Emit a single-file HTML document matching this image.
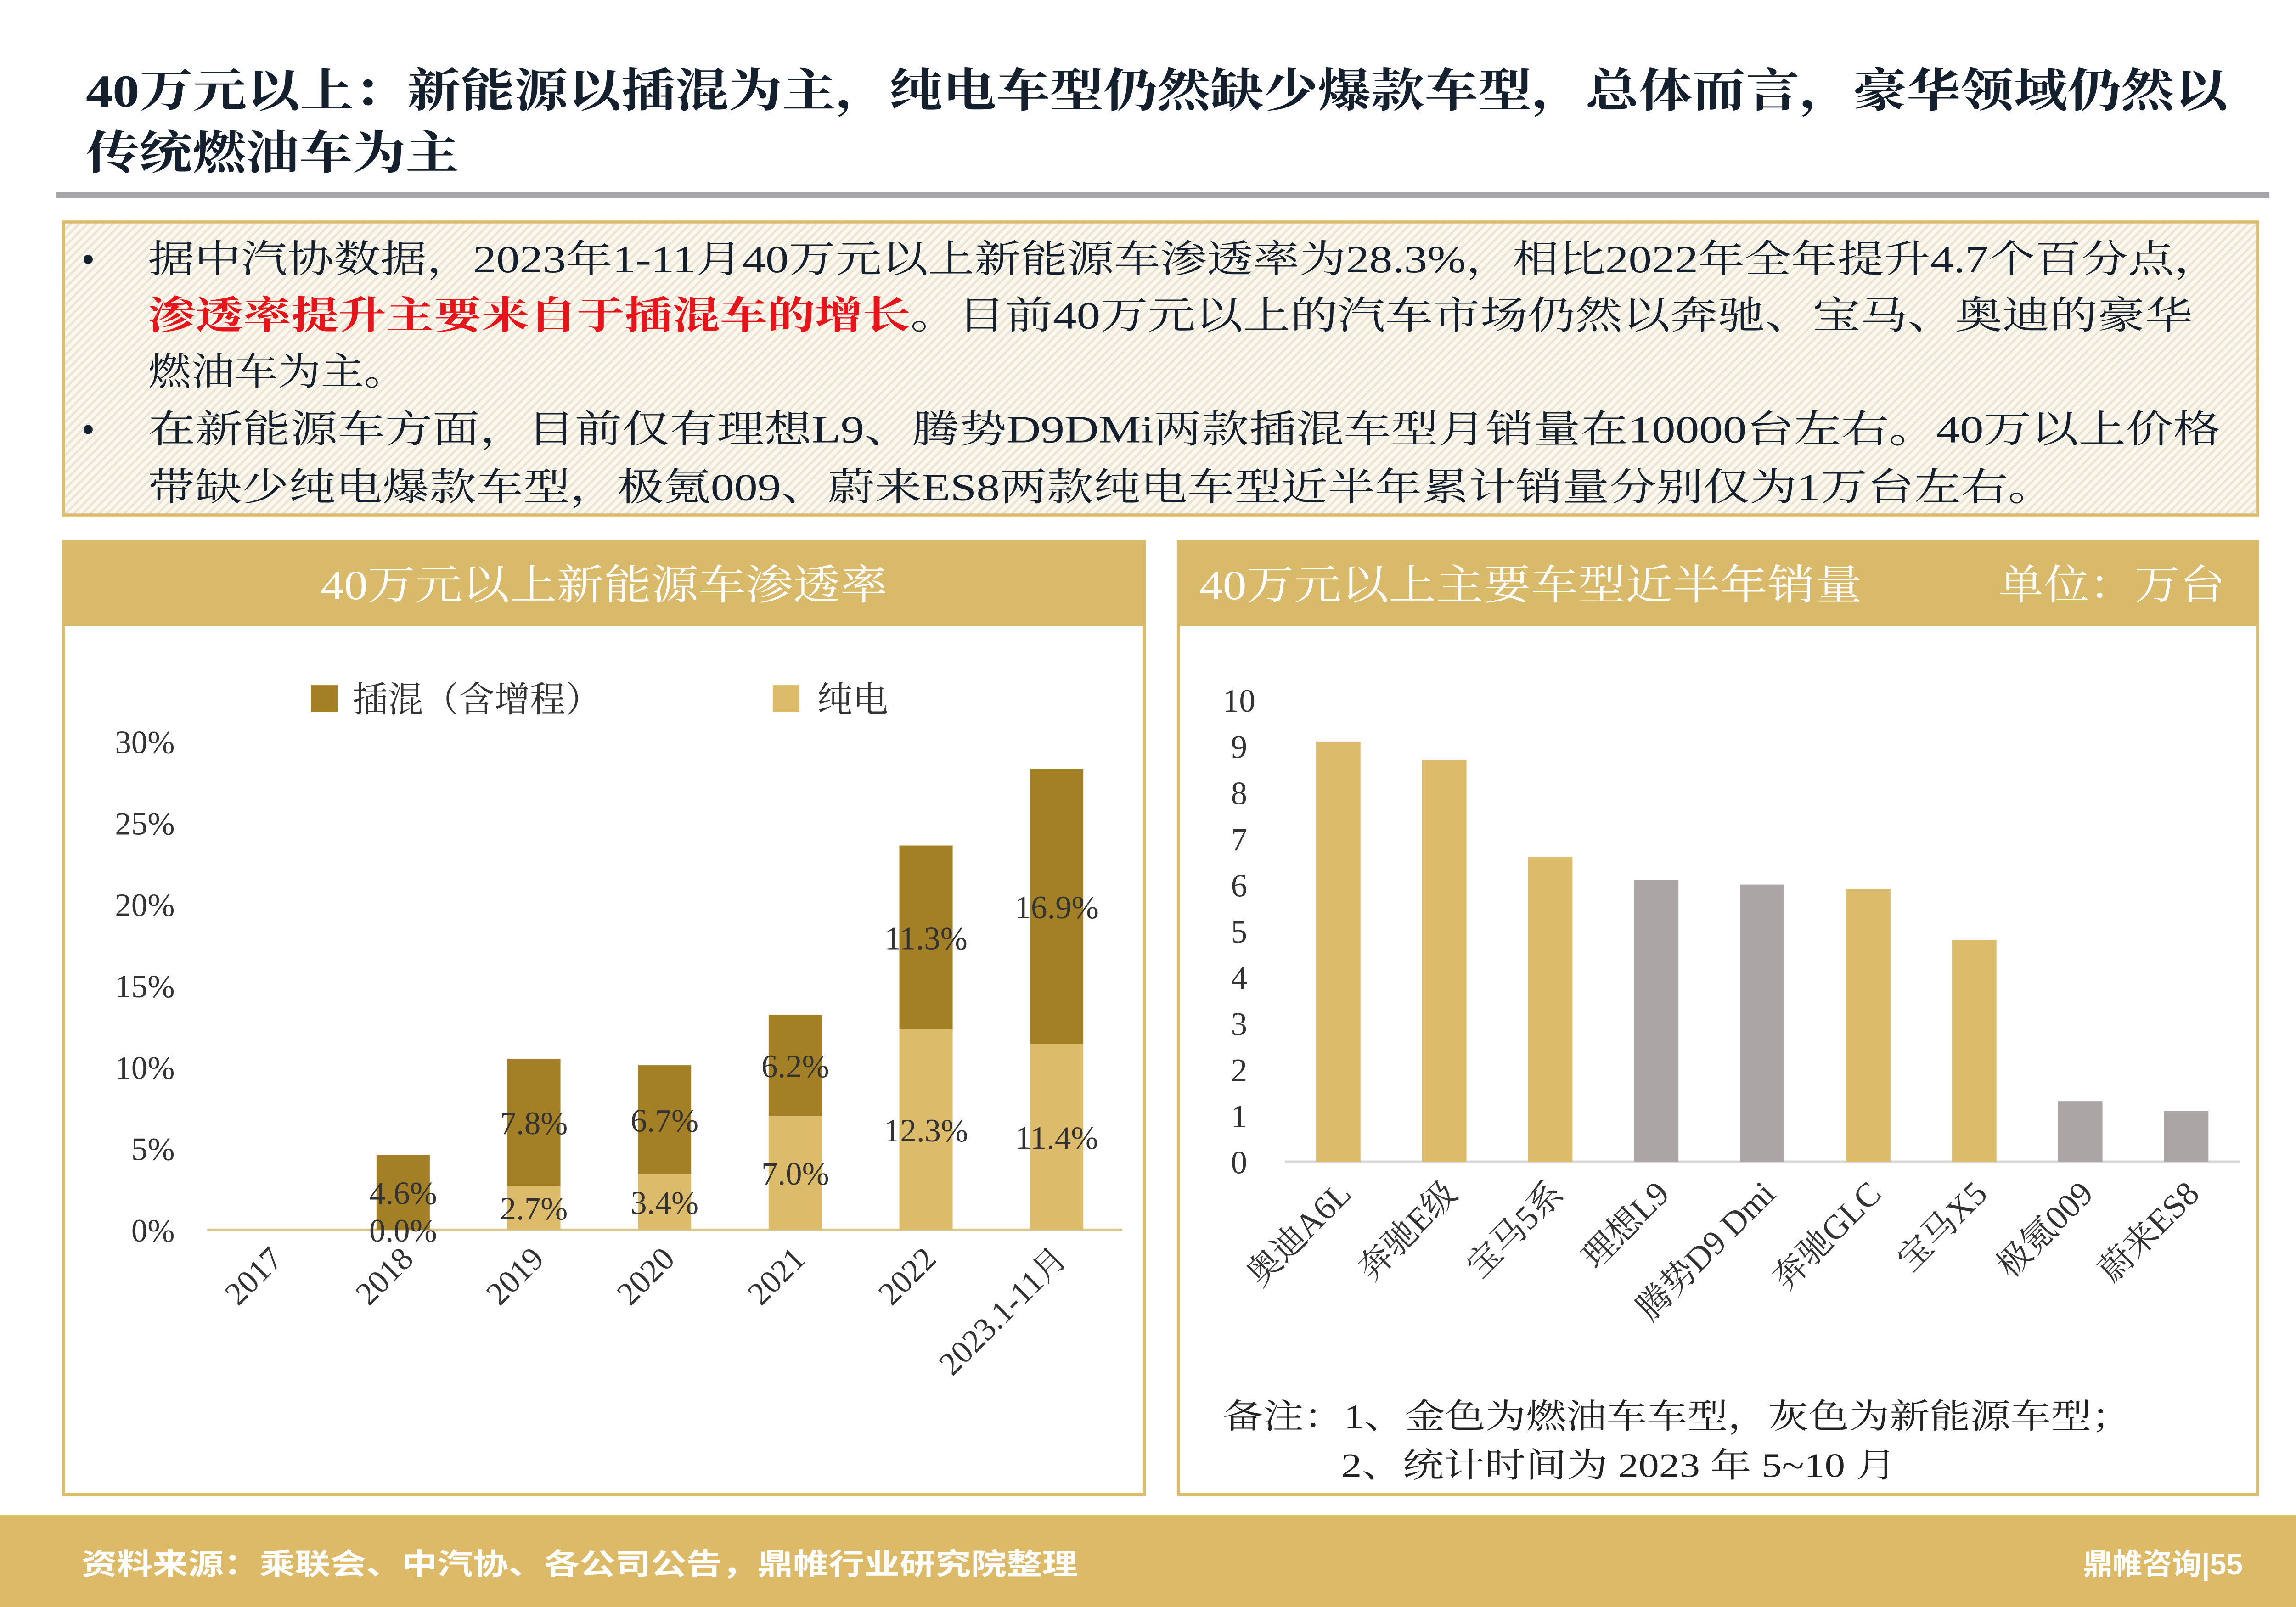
<!DOCTYPE html>
<html><head><meta charset="utf-8">
<style>
html,body{margin:0;padding:0;background:#fff;}
svg{display:block;}
text{font-family:"Liberation Serif","Noto Serif CJK SC",serif;}
</style></head>
<body>
<svg id="page" width="5055" height="3500" viewBox="0 0 1568 1086" preserveAspectRatio="none" xmlns="http://www.w3.org/2000/svg">
<defs>
<pattern id="hatch" patternUnits="userSpaceOnUse" width="4" height="4" patternTransform="rotate(45)">
<rect width="4" height="4" fill="#fbf8ef"/>
<rect width="1.5" height="4" fill="#ece5d3"/>
</pattern>
</defs>
<rect width="1568" height="1086" fill="#fff"/>
<g fill="#14202e" font-weight="bold" font-size="31">
<text x="58" y="72" textLength="1447" lengthAdjust="spacingAndGlyphs">40万元以上：新能源以插混为主，纯电车型仍然缺少爆款车型，总体而言，豪华领域仍然以</text>
<text x="58" y="114" textLength="252" lengthAdjust="spacingAndGlyphs">传统燃油车为主</text>
</g>
<rect x="38" y="130" width="1495" height="4" fill="#a6a6a8"/>
<g>
<rect x="43" y="150" width="1482" height="198" fill="url(#hatch)" stroke="#dcbc6b" stroke-width="2"/>
<g font-size="26" fill="#14202e">
<text x="55" y="184">•</text>
<text x="100" y="184" textLength="1400" lengthAdjust="spacingAndGlyphs">据中汽协数据，2023年1-11月40万元以上新能源车渗透率为28.3%，相比2022年全年提升4.7个百分点，</text>
<text x="100" y="222" fill="#e8141b" font-weight="bold" textLength="515" lengthAdjust="spacingAndGlyphs">渗透率提升主要来自于插混车的增长</text>
<text x="615" y="222" textLength="866" lengthAdjust="spacingAndGlyphs">。目前40万元以上的汽车市场仍然以奔驰、宝马、奥迪的豪华</text>
<text x="100" y="260" textLength="175" lengthAdjust="spacingAndGlyphs">燃油车为主。</text>
<text x="55" y="299">•</text>
<text x="100" y="299" textLength="1400" lengthAdjust="spacingAndGlyphs">在新能源车方面，目前仅有理想L9、腾势D9DMi两款插混车型月销量在10000台左右。40万以上价格</text>
<text x="100" y="338" textLength="1288" lengthAdjust="spacingAndGlyphs">带缺少纯电爆款车型，极氪009、蔚来ES8两款纯电车型近半年累计销量分别仅为1万台左右。</text>
</g>
</g>
<g>
<rect x="43" y="366" width="730" height="644" fill="#fff" stroke="#dcbc6b" stroke-width="2"/>
<rect x="43" y="366" width="730" height="57" fill="#d9b96a"/>
<text x="408" y="405" fill="#fff" font-size="28" text-anchor="middle" textLength="383" lengthAdjust="spacingAndGlyphs">40万元以上新能源车渗透率</text>
</g>
<g>
<rect x="796" y="366" width="729" height="644" fill="#fff" stroke="#dcbc6b" stroke-width="2"/>
<rect x="796" y="366" width="729" height="57" fill="#d9b96a"/>
<text x="810" y="405" fill="#fff" font-size="28" textLength="448" lengthAdjust="spacingAndGlyphs">40万元以上主要车型近半年销量</text>
<text x="1350" y="405" fill="#fff" font-size="28" textLength="153" lengthAdjust="spacingAndGlyphs">单位：万台</text>
</g>
<g id="leftChart"></g>
<g id="rightChart"></g>
<g font-size="23" fill="#222">
<text x="826" y="965" textLength="614" lengthAdjust="spacingAndGlyphs">备注：1、金色为燃油车车型，灰色为新能源车型；</text>
<text x="906" y="998" textLength="375" lengthAdjust="spacingAndGlyphs">2、统计时间为 2023 年 5~10 月</text>
</g>
<g>
<rect x="0" y="1024" width="1568" height="62" fill="#dcba68"/>
<text x="55" y="1064" fill="#fff" font-size="20" font-weight="bold" style="font-family:'Liberation Sans','Noto Sans CJK SC',sans-serif" textLength="673" lengthAdjust="spacingAndGlyphs">资料来源：乘联会、中汽协、各公司公告，鼎帷行业研究院整理</text>
<text x="1515" y="1064" fill="#fff" font-size="20" font-weight="bold" text-anchor="end" style="font-family:'Liberation Sans','Noto Sans CJK SC',sans-serif">鼎帷咨询|55</text>
</g>
</svg>
<script>
const years = ["2017","2018","2019","2020","2021","2022","2023.1-11月"];
const phevValues = [0, 4.6, 7.8, 6.7, 6.2, 11.3, 16.9];
const bevValues = [0, 0.0, 2.7, 3.4, 7.0, 12.3, 11.4];
const pctTicks = [0, 5, 10, 15, 20, 25, 30];
const models = ["奥迪A6L","奔驰E级","宝马5系","理想L9","腾势D9 Dmi","奔驰GLC","宝马X5","极氪009","蔚来ES8"];
const modelSales = [9.1, 8.7, 6.6, 6.1, 6.0, 5.9, 4.8, 1.3, 1.1];
const modelIsNEV = [false, false, false, true, true, false, false, true, true];
const salesTicks = [0,1,2,3,4,5,6,7,8,9,10];

const NS = "http://www.w3.org/2000/svg";
function mk(parent, tag, attrs, txt){
  const e = document.createElementNS(NS, tag);
  for (const k in attrs) e.setAttribute(k, attrs[k]);
  if (txt !== undefined) e.textContent = txt;
  parent.appendChild(e);
  return e;
}
// Left chart
const L = document.getElementById('leftChart');
const ly = v => 831 - v * 11;
const lx = i => 184 + i * 88.3;
const bw = 36;
pctTicks.forEach(t => {
  const e = mk(L, 'text', {x:118, y:ly(t)+8, 'text-anchor':'end', 'font-size':22, fill:'#333'}, t + '%');
  
  
});
const ax = mk(L, 'line', {x1:140, x2:758, y1:831, y2:831, stroke:'#d9c48c', 'stroke-width':1.5});


years.forEach((y, i) => {
  const b = bevValues[i], p = phevValues[i], cx = lx(i);
  if (b > 0) {
    const r = mk(L, 'rect', {x:cx-bw/2, y:ly(b), width:bw, height:ly(0)-ly(b), fill:'#dcbc6b'});
    
    
  }
  if (p > 0) {
    const r = mk(L, 'rect', {x:cx-bw/2, y:ly(b+p), width:bw, height:ly(b)-ly(b+p), fill:'#a37f26'});
    
    
  }
  if (i > 0) {
    const t1 = mk(L, 'text', {x:cx, y:ly(b + p/2)+8, 'text-anchor':'middle', 'font-size':22, fill:'#333'}, p.toFixed(1) + '%');
    
    
    const t2 = mk(L, 'text', {x:cx, y:ly(b/2)+8, 'text-anchor':'middle', 'font-size':22, fill:'#333'}, b.toFixed(1) + '%');
    
    
  }
  const xl = mk(L, 'text', {x:cx+8, y:852, 'text-anchor':'end', 'font-size':22, fill:'#333', transform:`rotate(-45 ${cx+8} 852)`}, y);
  
  
});
const lg1 = mk(L, 'rect', {x:210, y:463, width:18, height:18, fill:'#a37f26'});


const lt1 = mk(L, 'text', {x:238, y:481, 'font-size':24, fill:'#333'}, '插混（含增程）');


const lg2 = mk(L, 'rect', {x:522, y:463, width:18, height:18, fill:'#dcbc6b'});


const lt2 = mk(L, 'text', {x:552, y:481, 'font-size':24, fill:'#333'}, '纯电');



// Right chart
const R = document.getElementById('rightChart');
const ry = v => 785 - v * 31.2;
const rx = i => 904 + i * 71.6;
const rbw = 30;
salesTicks.forEach(t => {
  const e = mk(R, 'text', {x:837, y:ry(t)+8, 'text-anchor':'middle', 'font-size':22, fill:'#333'}, String(t));
  
  
});
const rax = mk(R, 'line', {x1:868, x2:1513, y1:785, y2:785, stroke:'#d9d9d9', 'stroke-width':1.5});


models.forEach((m, i) => {
  const v = modelSales[i], cx = rx(i);
  const r = mk(R, 'rect', {x:cx-rbw/2, y:ry(v), width:rbw, height:ry(0)-ry(v), fill: modelIsNEV[i] ? '#aca5a5' : '#dcbc6b'});
  
  
  const xl = mk(R, 'text', {x:cx+10, y:808, 'text-anchor':'end', 'font-size':23, fill:'#333', transform:`rotate(-45 ${cx+10} 808)`}, m);
  
  
});
</script>
</body></html>
